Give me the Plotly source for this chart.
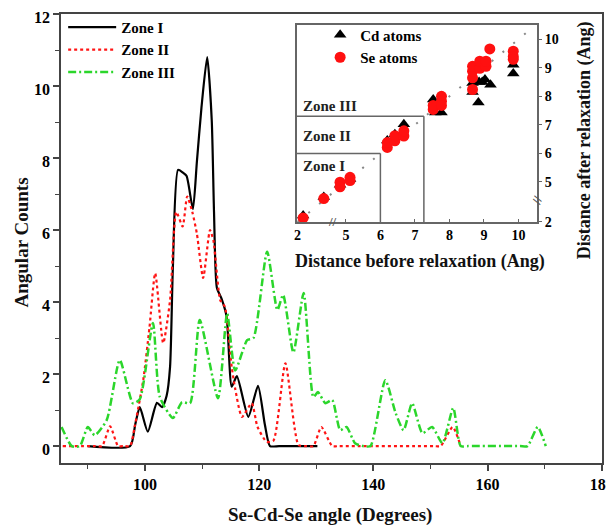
import numpy as np
import plotly.graph_objects as go

# ---------------- main chart data ----------------
zone1_x = [90, 97.4, 98.3, 99.1, 100.5, 102.1, 103.0, 103.8, 104.4, 104.9, 105.8, 106.6, 107.3, 108.4,
           109.1, 109.9, 110.9, 111.7, 112.1, 112.6, 113.4, 114.3, 115.2, 116.1, 118.1, 119.8, 121.0, 121.9,
           123.5, 130.2]
zone1_y = [0, 0, 0.6, 1.08, 0.4, 1.2, 1.08, 1.4, 2.2, 5.0, 7.67, 7.6, 7.5, 6.58,
           7.9, 9.4, 10.8, 9.05, 6.5, 4.4, 4.1, 3.6, 1.65, 1.94, 0.81, 1.67, 0.6, 0,
           0, 0]

zone2_x = [85.6, 91.3, 92.5, 93.9, 95.3, 96.3, 97.4, 98.2, 99.7, 100.8, 101.8, 103.2, 104.4, 105.5, 106.6,
           107.4, 108.3, 109.1, 110.2, 111.4, 112.0, 113.2, 114.0, 115.2, 115.8, 117.0, 118.7, 119.7,
           121.3, 122.5, 124.6, 126.9, 128.2, 129.5, 130.9, 132.8, 134.0, 150.6, 151.8, 153.9, 155.3]
zone2_y = [0, 0, 0, 0.55, 0, 0, 0, 0.54, 1.83, 3.3, 4.8, 2.86, 4.05, 6.5, 6.1,
           6.93, 6.5, 5.9, 4.67, 6.0, 5.7, 4.05, 3.87, 2.2, 1.6, 0.81, 1.19, 0.54,
           0.12, 0.15, 2.3, 0.03, 0, 0, 0.53, 0, 0, 0, 0, 0.53, 0]

zone3_x = [85.4, 87.2, 88.6, 90.0, 91.2, 93.3, 95.6, 97.9, 99.1, 101.4, 102.6, 104.9, 106.5, 107.9,
           109.6, 112.8, 114.4, 115.8, 117.9, 119.0, 121.4, 123.2, 124.2, 126.0, 127.8, 129.5, 130.3,
           131.6, 132.8, 134.2, 135.3, 136.8, 138.2, 139.5, 142.1, 143.9, 145.3, 146.8, 148.6, 150.3, 152.1,
           154.0, 155.3, 156.6, 165.7, 167.0, 168.8, 170.2]
zone3_y = [0.53, 0, 0, 0.53, 0.3, 0.72, 2.39, 1.19, 1.3, 3.42, 1.37, 0.78, 1.22, 1.19,
           3.5, 1.33, 3.69, 2.1, 2.94, 3.0, 5.4, 3.78, 4.2, 2.6, 4.25, 1.36, 1.5,
           1.19, 1.28, 0.44, 0.53, 0.08, 0, 0, 1.83, 0.92, 0.44, 1.19, 0.36, 0.53, 0.08,
           1.06, 0, 0, 0, 0, 0.53, 0]

main_xticks = [100, 120, 140, 160, 180]
main_yticks = [0, 2, 4, 6, 8, 10, 12]

# ---------------- inset data (distances, Ang) ----------------
cd_before = [2.46, 4.17, 4.83, 5.12, 6.2, 6.42, 6.68, 7.53, 7.59, 7.77, 8.67, 8.67, 8.84, 8.86,
             8.95, 9.03, 9.19, 9.85, 9.85]
cd_after = [2.63, 4.49, 4.9, 5.1, 6.45, 6.67, 7.02, 7.89, 7.43, 7.43, 8.47, 8.15, 7.78, 8.5,
            8.5, 8.59, 8.41, 9.11, 8.8]
se_before = [2.46, 4.17, 4.83, 4.83, 5.12, 5.12, 6.2, 6.2, 6.42, 6.42, 6.68, 6.68, 7.53, 7.53,
             7.77, 7.77, 7.77, 8.67, 8.67, 8.67, 8.67, 8.88, 8.88, 9.06, 9.06, 9.17, 9.85, 9.85, 9.85]
se_after = [2.40, 4.34, 4.99, 4.83, 5.16, 5.05, 6.21, 6.38, 6.44, 6.62, 6.61, 6.79, 7.54, 7.68,
            8.0, 7.83, 7.68, 8.24, 8.65, 8.88, 9.05, 8.98, 9.23, 9.05, 9.23, 9.66, 9.58, 9.4, 9.3]
inset_ticks = [2, 5, 6, 7, 8, 9, 10]
zone_edges_x = [6.0, 7.26]
zone_edges_y = [6.0, 7.3]
zone_labels = ["Zone I", "Zone II", "Zone III"]
zone_label_y = [5.56, 6.6, 7.65]
diag = [2.0, 10.4]


def brk(v):
    """Broken axis: values below the break are compressed."""
    v = np.asarray(v, dtype=float)
    return np.where(v >= 4.6, v, 3.6 + (v - 2.0) * 0.35)


FONT = "Liberation Serif"
AX = "#444444"
INAX = "#666666"

fig = go.Figure()

fig.add_trace(go.Scatter(x=zone1_x, y=zone1_y, mode="lines", name="Zone I",
                         line=dict(color="black", width=2.2, shape="spline", smoothing=0.6)))
fig.add_trace(go.Scatter(x=zone2_x, y=zone2_y, mode="lines", name="Zone II",
                         line=dict(color="#ff1414", width=2.2, dash="dot", shape="spline", smoothing=0.6)))
fig.add_trace(go.Scatter(x=zone3_x, y=zone3_y, mode="lines", name="Zone III",
                         line=dict(color="#2bd62b", width=2.5, dash="8px,3px,2px,3px",
                                   shape="spline", smoothing=0.6)))

# inset
fig.add_trace(go.Scatter(x=brk(diag), y=brk(diag), mode="lines", xaxis="x2", yaxis="y2",
                         showlegend=False, hoverinfo="skip",
                         line=dict(color="#888888", width=2, dash="2px,12px")))
fig.add_trace(go.Scatter(x=brk(cd_before), y=brk(cd_after), mode="markers", name="Cd atoms",
                         xaxis="x2", yaxis="y2", legend="legend2",
                         marker=dict(symbol="triangle-up", size=11, color="black")))
fig.add_trace(go.Scatter(x=brk(se_before), y=brk(se_after), mode="markers", name="Se atoms",
                         xaxis="x2", yaxis="y2", legend="legend2",
                         marker=dict(symbol="circle", size=11, color="#ff1010")))

shapes = []
for ex, ey in zip(zone_edges_x, zone_edges_y):
    shapes.append(dict(type="line", xref="x2", yref="y2", x0=3.58, x1=ex, y0=ey, y1=ey,
                       line=dict(color=INAX, width=1.5)))
    shapes.append(dict(type="line", xref="x2", yref="y2", x0=ex, x1=ex, y0=3.6, y1=ey,
                       line=dict(color=INAX, width=1.5)))

annotations = []
for lab, ly in zip(zone_labels, zone_label_y):
    annotations.append(dict(text=lab, xref="x2", yref="y2", x=3.7, y=ly, xanchor="left",
                            yanchor="middle", showarrow=False,
                            font=dict(family=FONT, size=15, color="#222", weight="bold")))
# axis break marks
annotations.append(dict(text="//", xref="x2", yref="paper", x=4.62, y=0.537, showarrow=False,
                        xanchor="center", yanchor="middle",
                        font=dict(family=FONT, size=13, color="#555", weight="bold")))
annotations.append(dict(text="//", xref="paper", yref="y2", x=0.880, y=4.34, showarrow=False,
                        xanchor="center", yanchor="middle", textangle=-70,
                        font=dict(family=FONT, size=13, color="#555", weight="bold")))
# titles
annotations += [
    dict(text="Se-Cd-Se angle (Degrees)", xref="paper", yref="paper", x=0.497, y=-0.116,
         xanchor="center", yanchor="middle",
         showarrow=False, font=dict(family=FONT, size=19, color="#111", weight="bold")),
    dict(text="Angular Counts", xref="paper", yref="paper", x=-0.073, y=0.49, textangle=-90,
         xanchor="center", yanchor="middle",
         showarrow=False, font=dict(family=FONT, size=19, color="#111", weight="bold")),
    dict(text="Distance before relaxation (Ang)", xref="paper", yref="paper", x=0.664, y=0.448,
         xanchor="center", yanchor="middle",
         showarrow=False, font=dict(family=FONT, size=18, color="#111", weight="bold")),
    dict(text="Distance after relaxation (Ang)", xref="paper", yref="paper", x=0.967, y=0.719,
         xanchor="center", yanchor="middle",
         textangle=-90, showarrow=False, font=dict(family=FONT, size=18, color="#111", weight="bold")),
]

fig.update_layout(
    # the page body adds an 8px offset, so margins are reduced by 8px on the top/left
    width=614, height=520,
    margin=dict(l=53, r=20, t=6, b=65, autoexpand=False),
    paper_bgcolor="white", plot_bgcolor="white",
    font=dict(family=FONT, color="black"),
    shapes=shapes, annotations=annotations,
    xaxis=dict(range=[85.3, 180.05], tickvals=main_xticks, ticks="outside", ticklen=6, tickwidth=1.5,
               tickcolor=AX, showline=True, linecolor=AX, linewidth=1.5, mirror=True,
               showgrid=False, zeroline=False, automargin=False, ticklabeloverflow="allow",
               minor=dict(dtick=10, tick0=90, ticks="outside", ticklen=4, tickcolor=AX, tickwidth=1.2),
               tickfont=dict(family=FONT, size=16, weight="bold")),
    yaxis=dict(range=[-0.47, 12.0], tickvals=main_yticks, ticks="outside", ticklen=6, tickwidth=1.5,
               tickcolor=AX, showline=True, linecolor=AX, linewidth=1.5, mirror=True,
               showgrid=False, zeroline=False, automargin=False, ticklabeloverflow="allow",
               ticklabelshift=3,
               minor=dict(dtick=1, tick0=0, ticks="outside", ticklen=4, tickcolor=AX, tickwidth=1.2),
               tickfont=dict(family=FONT, size=16, weight="bold")),
    xaxis2=dict(domain=[0.436, 0.880], anchor="y2", range=[3.58, 10.54],
                tickvals=list(brk(inset_ticks)), ticktext=[str(t) for t in inset_ticks],
                ticks="inside", ticklen=3, tickcolor=INAX, showline=True, linecolor=INAX,
                linewidth=1.5, mirror=True, showgrid=False, zeroline=False, automargin=False,
                tickfont=dict(family=FONT, size=14, weight="bold")),
    yaxis2=dict(domain=[0.537, 0.9755], anchor="x2", side="right", range=[3.6, 10.5],
                tickvals=list(brk(inset_ticks)), ticktext=[str(t) for t in inset_ticks],
                ticks="outside", ticklen=3, tickcolor=INAX, showline=True, linecolor=INAX,
                linewidth=1.5, mirror=True, showgrid=False, zeroline=False, automargin=False,
                tickfont=dict(family=FONT, size=14, weight="bold")),
    legend=dict(x=0.004, y=1.007, xanchor="left", yanchor="top", bgcolor="rgba(0,0,0,0)",
                itemwidth=48, font=dict(family=FONT, size=15, weight="bold"), tracegroupgap=0),
    legend2=dict(x=0.479, y=0.99, xanchor="left", yanchor="top", bgcolor="rgba(0,0,0,0)",
                 font=dict(family=FONT, size=15, weight="bold")),
)

fig.write_html("out.html")
